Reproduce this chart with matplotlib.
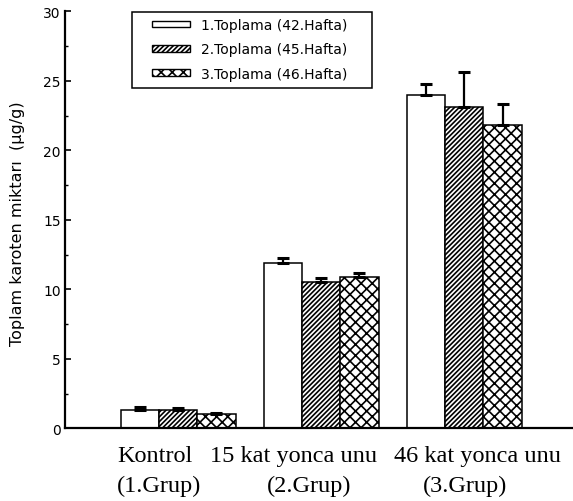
import numpy as np
import matplotlib
matplotlib.use("Agg")
import matplotlib.pyplot as plt
from matplotlib.patches import Rectangle
from matplotlib.ticker import MultipleLocator
from matplotlib.transforms import blended_transform_factory

# Data: total carotene (µg/g) per group and collection
groups_line1 = ["Kontrol", "15 kat yonca unu", "46 kat yonca unu"]
groups_line2 = ["(1.Grup)", "(2.Grup)", "(3.Grup)"]
series_labels = ["1.Toplama (42.Hafta)", "2.Toplama (45.Hafta)", "3.Toplama (46.Hafta)"]

toplama1 = [1.35, 11.9, 24.0]
toplama2 = [1.35, 10.5, 23.1]
toplama3 = [1.05, 10.85, 21.85]

err1 = [0.15, 0.35, 0.8]
err2 = [0.12, 0.3, 2.5]
err3 = [0.08, 0.3, 1.45]

yticks = [0, 5, 10, 15, 20, 25, 30]

# Styling
plt.rcParams["hatch.linewidth"] = 1.2
plt.rcParams["font.family"] = ["DejaVu Sans"]

fig = plt.figure(figsize=(5.73, 5.02), dpi=100)
ax = fig.add_axes([0.1134, 0.1448, 0.8866, 0.8307])

x = np.arange(len(groups_line1))
width = 0.268
hatches = [None, "///////", "xxx"]
values = [toplama1, toplama2, toplama3]
errors = [err1, err2, err3]

containers = []
for i, (vals, errs, h) in enumerate(zip(values, errors, hatches)):
    pos = x + (i - 1) * width
    bc = ax.bar(
        pos, vals, width,
        color="white", edgecolor="black", linewidth=1.1, hatch=h,
        yerr=[np.zeros(len(errs)), errs],
        error_kw=dict(ecolor="black", elinewidth=1.6, capsize=4.2, capthick=2.2),
        label=series_labels[i], zorder=2,
    )
    containers.append(bc)

ax.set_xlim(-0.790, 2.760)
ax.set_ylim(0, 30)
ax.set_yticks(yticks)
ax.yaxis.set_minor_locator(MultipleLocator(2.5))
ax.set_xticks([])

for side in ["top", "right"]:
    ax.spines[side].set_visible(False)
for side in ["left", "bottom"]:
    ax.spines[side].set_linewidth(1.6)

ax.tick_params(axis="y", which="major", direction="in", length=4, width=1.2,
               labelsize=10, pad=3)
ax.tick_params(axis="y", which="minor", direction="in", length=2.2, width=1.0)

ax.set_ylabel("Toplam karoten miktarı  (µg/g)", fontsize=11.5)
ax.yaxis.set_label_coords(-0.078, 0.4935)

# Two-line group labels in a serif face below the axis
trans = blended_transform_factory(ax.transData, ax.transAxes)
line1_offsets = [-0.16, -0.193, 0.095]
line2_offsets = [-0.132, -0.082, 0.008]
for xi, t1, t2, o1, o2 in zip(x, groups_line1, groups_line2, line1_offsets, line2_offsets):
    ax.text(xi + o1, -0.0782, t1, transform=trans, ha="center", va="baseline",
            fontsize=17.5, family="Liberation Serif")
    ax.text(xi + o2, -0.150, t2, transform=trans, ha="center", va="baseline",
            fontsize=17.5, family="Liberation Serif")

# Legend with a separately drawn frame
fig_w, fig_h = 573.0, 502.0
leg = ax.legend(
    handles=containers, labels=series_labels,
    loc="upper left", bbox_to_anchor=(151.7 / fig_w, 1 - 19.0 / fig_h),
    bbox_transform=fig.transFigure,
    frameon=False, borderpad=0, borderaxespad=0,
    fontsize=10, handlelength=2.78, handleheight=0.35,
    handletextpad=0.8, labelspacing=0.74,
)
for p in leg.get_patches():
    p.set_linewidth(1.0)

frame = Rectangle((132.3 / fig_w, 1 - 89.3 / fig_h), 240.0 / fig_w, 76.6 / fig_h,
                  transform=fig.transFigure, fill=False, edgecolor="black",
                  linewidth=1.1)
fig.add_artist(frame)

fig.savefig("out.png", dpi=100, facecolor="white")
